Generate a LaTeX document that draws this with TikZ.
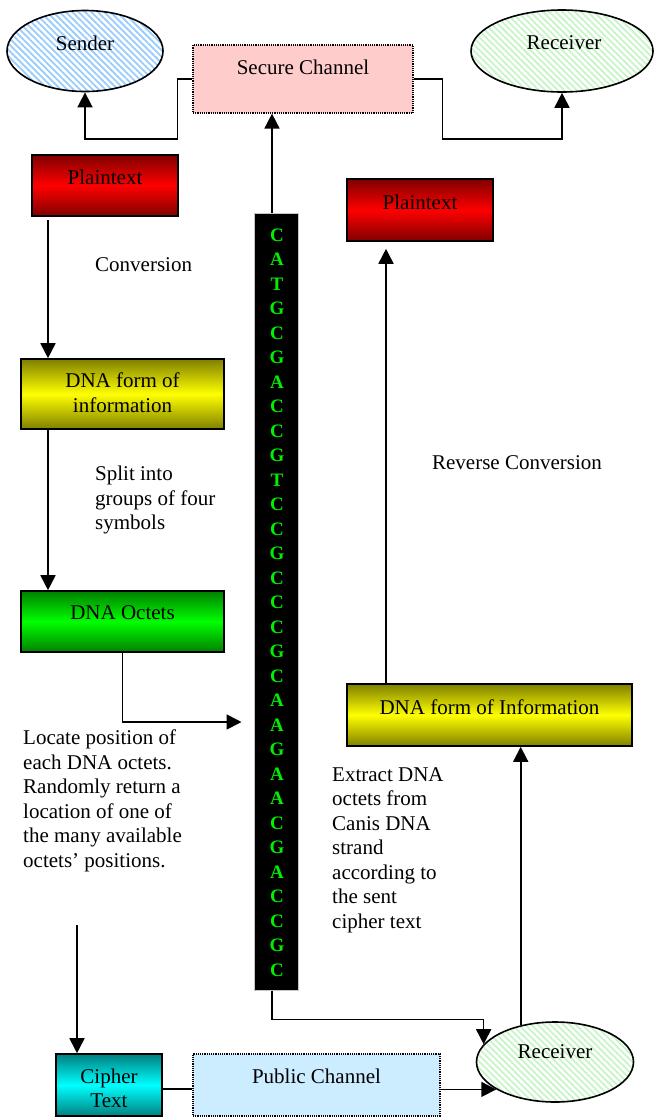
\documentclass[tikz,border=0pt]{standalone}
\usepackage{fontspec}
\setmainfont{Liberation Serif}
\usetikzlibrary{arrows.meta,shapes.geometric,patterns.meta,calc}
\definecolor{pinkfill}{HTML}{FFCCCC}
\definecolor{bluefill}{HTML}{CCECFF}
\definecolor{hatchblue}{HTML}{99CCFF}
\definecolor{hatchgreen}{HTML}{C8F5C8}
\definecolor{dnagreen}{HTML}{00F000}
\tikzset{
  box/.style={draw=black, line width=1.6pt, rectangle, inner sep=0pt},
  redbox/.style={box, top color=red!50!black, bottom color=red!50!black, middle color=red},
  yelbox/.style={box, top color=yellow!50!black, bottom color=yellow!50!black, middle color=yellow},
  grnbox/.style={box, top color=green!50!black, bottom color=green!50!black, middle color=green},
  cyanbox/.style={box, top color=cyan!50!black, bottom color=cyan!50!black, middle color=cyan},
  chanbox/.style={draw=black, densely dotted, line width=1.2pt, rectangle, inner sep=0pt},
  oval/.style={ellipse, draw=black, line width=1.6pt, inner sep=0pt},
  txt/.style={font=\fontsize{21}{24.5}\selectfont, align=center, inner sep=0pt},
  ltxt/.style={font=\fontsize{21}{24.5}\selectfont, align=left, inner sep=0pt, anchor=north west},
  arr/.style={line width=1.7pt, -{Triangle[length=15pt,width=15pt]}},
  conn/.style={line width=1.7pt},
  basech/.style={font=\fontsize{19}{19}\selectfont\bfseries, text=dnagreen, inner sep=0pt}
}
\begin{document}
\begin{tikzpicture}[x=1pt,y=1pt]
\useasboundingbox (0,0) rectangle (654,-1117);
\fill[white] (0,0) rectangle (654,-1117);

% top row
\node[oval, minimum width=156, minimum height=81,
  pattern={Lines[angle=-45,distance=4.5pt,line width=1.8pt]}, pattern color=hatchblue] (sender) at (85,-51) {};
\node[txt] (senderlbl) at (85,-43) {Sender};
\node[chanbox, fill=pinkfill, minimum width=220, minimum height=68] (sc) at (303,-79) {};
\node[txt] (sclbl) at (303,-67) {Secure Channel};
\node[oval, minimum width=182, minimum height=82,
  pattern={Lines[angle=-45,distance=4.5pt,line width=1.8pt]}, pattern color=hatchgreen] (rtop) at (562,-51) {};
\node[txt] (rtoplbl) at (564,-43) {Receiver};

% left column
\node[redbox, minimum width=146, minimum height=61] (pt1) at (105,-185.5) {};
\node[txt] (pt1lbl) at (105,-177) {Plaintext};
\node[yelbox, minimum width=203, minimum height=70] (dna1) at (122.5,-394) {};
\node[txt] (dna1lbl) at (122.5,-392.5) {DNA form of\\information};
\node[grnbox, minimum width=203, minimum height=61] (oct) at (122.5,-621.5) {};
\node[txt] (octlbl) at (122.5,-613) {DNA Octets};
\node[cyanbox, minimum width=106, minimum height=62] (cipher) at (109,-1085) {};
\node[txt] (cipherlbl) at (109,-1088.5) {Cipher\\Text};
\node[chanbox, fill=bluefill, minimum width=247, minimum height=62] (pub) at (316.5,-1085) {};
\node[txt] (publbl) at (316.5,-1076) {Public Channel};

% right column
\node[redbox, minimum width=146, minimum height=62] (pt2) at (420,-210) {};
\node[txt] (pt2lbl) at (420,-202) {Plaintext};
\node[yelbox, minimum width=285, minimum height=62] (dna2) at (489.5,-715) {};
\node[txt] (dna2lbl) at (489.5,-707) {DNA form of Information};
\node[oval, minimum width=157, minimum height=80,
  pattern={Lines[angle=-45,distance=4.5pt,line width=1.8pt]}, pattern color=hatchgreen] (rbot) at (555,-1062) {};
\node[txt] (rbotlbl) at (555,-1052) {Receiver};

% DNA strand
\node[rectangle, fill=black, draw=gray!45, line width=1pt, minimum width=44, minimum height=777, inner sep=0pt] (strand) at (276,-601.5) {};
\foreach \b [count=\i from 0] in {C,A,T,G,C,G,A,C,C,G,T,C,C,G,C,C,C,G,C,A,A,G,A,A,C,G,A,C,C,G,C}
  \node[basech] (b\i) at (277,{-235-24.5*\i}) {\b};

% free texts
\node[txt, anchor=west] (conv) at (95,-265) {Conversion};
\node[ltxt] (split) at (95,-466) {Split into\\groups of four\\symbols};
\node[ltxt] (locate) at (23,-730) {Locate position of\\each DNA octets.\\Randomly return a\\location of one of\\the many available\\octets' positions.};
\node[txt] (rev) at (517,-463) {Reverse Conversion};
\node[ltxt] (extract) at (332,-767) {Extract DNA\\octets from\\Canis DNA\\strand\\according to\\the sent\\cipher text};

% connectors
\draw[arr] (sc.west) -- ++(-15,0) -- ++(0,-60) -| (sender.south);
\draw[arr] (sc.east) -- ++(29,0) -- ++(0,-60) -| (rtop.south);
\draw[arr] ([xshift=-4]strand.north) -- ([xshift=-4]strand.north |- sc.south);
\coordinate (a1) at ([shift={(-57,-3)}]pt1.south);
\draw[arr] (a1) -- (a1 |- dna1.north);
\draw[arr] (dna1.south -| a1) -- (oct.north -| a1);
\draw[arr] (oct.south) |- ([xshift=-12,yshift=-120.5]strand.west);
\coordinate (c7) at (77,-925);
\draw[arr] (c7) -- (c7 |- cipher.north);
\draw[conn] ([yshift=-4]cipher.east) -- ([yshift=-4]pub.west);
\draw[arr] (pub.east |- rbot.205) -- (rbot.205);
\draw[arr] ([xshift=-4]strand.south) -- ++(0,-29) -| (rbot.166);
\draw[arr] (rbot.133) -- (rbot.133 |- dna2.south);
\draw[arr, shorten >=7pt] ([xshift=-103.5]dna2.north) -- ([xshift=-103.5]dna2.north |- pt2.south);
\end{tikzpicture}
\end{document}
